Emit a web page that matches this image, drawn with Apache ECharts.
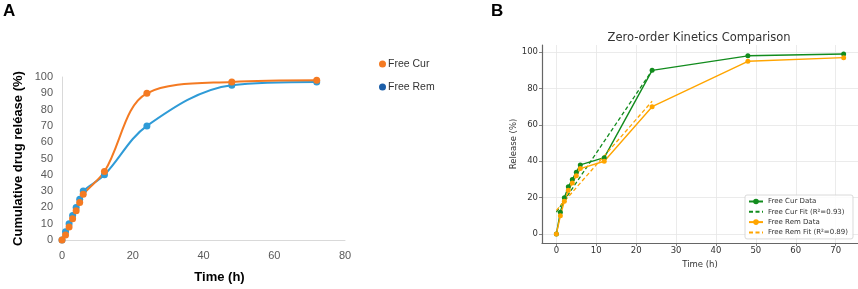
<!DOCTYPE html>
<html>
<head>
<meta charset="utf-8">
<script src="https://cdn.jsdelivr.net/npm/echarts@6/dist/echarts.min.js"></script>
<style>html,body{margin:0;padding:0;background:#fff}#c{width:858px;height:289px}</style>
</head>
<body>
<div id="c"></div>
<script>
// ---- data ----
const timesH = [0, 1, 2, 3, 4, 5, 6, 12, 24, 48, 72];
// Panel A
const curA = [0, 3, 8, 13, 18, 23, 28, 42, 90, 97, 98];
const remA = [0, 5, 10, 15, 20, 25, 30, 40, 70, 95, 97];
// Panel B
const curB = [0, 12, 20, 26, 30, 34, 38, 42, 90, 98, 99];
const remB = [0, 10, 18, 24, 28, 32, 36, 40, 70, 95, 97];
const fitTimes = [0, 24];
const curFit = [12, 90];
const remFit = [13, 73];
const xTicksB = [0, 10, 20, 30, 40, 50, 60, 70];
const yTicksB = [0, 20, 40, 60, 80, 100];

const pairs = (xs, ys) => xs.map((x, i) => [x, ys[i]]);

const GREEN = '#128c1e', ORANGE = '#ffa500';
const ORA = '#f47a22', BLU = '#2f9bd7', BLU_LEG = '#1b5ea8';
const mpl = 'DejaVu Sans';
const xl = 'Liberation Sans';

const chart = echarts.init(document.getElementById('c'), null, {renderer: 'canvas'});
chart.setOption({
  animation: false,
  backgroundColor: '#fff',
  graphic: [
    {type: 'text', left: 3, top: 3, style: {text: 'A', font: 'bold 17px "Liberation Sans"', fill: '#000'}},
    {type: 'text', left: 491, top: 3, style: {text: 'B', font: 'bold 17px "Liberation Sans"', fill: '#000'}},
    {type: 'text', x: 699, y: 38, style: {text: 'Zero-order Kinetics Comparison', font: '11.5px "DejaVu Sans"', fill: '#333', align: 'center', verticalAlign: 'middle'}}
  ],
  legend: [
    {
      orient: 'vertical', left: 374, top: 53, itemWidth: 7, itemHeight: 7, itemGap: 11,
      icon: 'circle',
      textStyle: {fontFamily: xl, fontSize: 10.5, color: '#333', lineHeight: 12, padding: [0, 0, 0, -3]},
      data: [{name: 'Free Cur', itemStyle: {color: ORA}}, {name: 'Free Rem', itemStyle: {color: BLU_LEG}}]
    },
    {
      orient: 'vertical', left: 745, top: 195, itemWidth: 14, itemHeight: 7, itemGap: 3.3,
      padding: [3, 5, 3, 3],
      backgroundColor: 'rgba(255,255,255,0.85)', borderColor: '#d0d0d0', borderWidth: 0.8, borderRadius: 2,
      textStyle: {fontFamily: mpl, fontSize: 7, color: '#333', lineHeight: 7},
      data: [
        'Free Cur Data',
        {name: 'Free Cur Fit (R²=0.93)', itemStyle: {opacity: 0}},
        'Free Rem Data',
        {name: 'Free Rem Fit (R²=0.89)', itemStyle: {opacity: 0}}
      ]
    }
  ],
  grid: [
    {left: 62, top: 77, width: 283, height: 165},
    {left: 542, top: 45, width: 323, height: 198}
  ],
  xAxis: [
    {
      type: 'value', gridIndex: 0, min: 0, max: 80, interval: 20,
      name: 'Time (h)', nameLocation: 'middle', nameGap: 31,
      nameTextStyle: {fontFamily: xl, fontWeight: 'bold', fontSize: 13, color: '#000', padding: [0, 0, 0, 32]},
      axisLine: {show: true, lineStyle: {color: '#d9d9d9', width: 1}},
      axisTick: {show: false}, splitLine: {show: false},
      axisLabel: {fontFamily: xl, fontSize: 11, color: '#595959', margin: 10}
    },
    {
      type: 'value', gridIndex: 1, min: -3.6, max: 75.6,
      name: 'Time (h)', nameLocation: 'middle', nameGap: 13,
      nameTextStyle: {fontFamily: mpl, fontSize: 8.5, color: '#333'},
      axisLine: {show: true, onZero: false, lineStyle: {color: '#666', width: 1.2}},
      axisTick: {show: true, customValues: xTicksB, length: 3, lineStyle: {color: '#666', width: 0.8}},
      splitLine: {show: true, lineStyle: {color: '#e6e6e6', width: 0.8}},
      axisLabel: {customValues: xTicksB, fontFamily: mpl, fontSize: 8.5, color: '#333', margin: 3}
    }
  ],
  yAxis: [
    {
      type: 'value', gridIndex: 0, min: 0, max: 100, interval: 10,
      name: 'Cumulative drug reléase (%)', nameLocation: 'middle', nameGap: 37,
      nameTextStyle: {fontFamily: xl, fontWeight: 'bold', fontSize: 13, color: '#000'},
      axisLine: {show: true, lineStyle: {color: '#d9d9d9', width: 1}},
      axisTick: {show: false}, splitLine: {show: false},
      axisLabel: {fontFamily: xl, fontSize: 11, color: '#595959', margin: 9}
    },
    {
      type: 'value', gridIndex: 1, min: -4.95, max: 103.95,
      name: 'Release (%)', nameLocation: 'middle', nameGap: 23,
      nameTextStyle: {fontFamily: mpl, fontSize: 8.5, color: '#333'},
      axisLine: {show: true, onZero: false, lineStyle: {color: '#666', width: 1.2}},
      axisTick: {show: true, customValues: yTicksB, length: 3, lineStyle: {color: '#666', width: 0.8}},
      splitLine: {show: true, lineStyle: {color: '#e6e6e6', width: 0.8}},
      axisLabel: {customValues: yTicksB, fontFamily: mpl, fontSize: 8.5, color: '#333', margin: 4}
    }
  ],
  series: [
    {
      name: 'Free Rem', type: 'line', xAxisIndex: 0, yAxisIndex: 0, data: pairs(timesH, remA),
      smooth: 0.35, symbol: 'circle', symbolSize: 7,
      itemStyle: {color: BLU}, lineStyle: {color: BLU, width: 2}
    },
    {
      name: 'Free Cur', type: 'line', xAxisIndex: 0, yAxisIndex: 0, data: pairs(timesH, curA),
      smooth: 0.35, symbol: 'circle', symbolSize: 7,
      itemStyle: {color: ORA}, lineStyle: {color: ORA, width: 2}
    },
    {
      name: 'Free Cur Data', type: 'line', xAxisIndex: 1, yAxisIndex: 1, data: pairs(timesH, curB),
      symbol: 'circle', symbolSize: 5, itemStyle: {color: GREEN}, lineStyle: {color: GREEN, width: 1.4}
    },
    {
      name: 'Free Cur Fit (R²=0.93)', type: 'line', xAxisIndex: 1, yAxisIndex: 1, data: pairs(fitTimes, curFit),
      symbol: 'none', itemStyle: {color: GREEN}, lineStyle: {color: GREEN, width: 1.3, type: [4, 2.5]}
    },
    {
      name: 'Free Rem Data', type: 'line', xAxisIndex: 1, yAxisIndex: 1, data: pairs(timesH, remB),
      symbol: 'circle', symbolSize: 5, itemStyle: {color: ORANGE}, lineStyle: {color: ORANGE, width: 1.4}
    },
    {
      name: 'Free Rem Fit (R²=0.89)', type: 'line', xAxisIndex: 1, yAxisIndex: 1, data: pairs(fitTimes, remFit),
      symbol: 'none', itemStyle: {color: ORANGE}, lineStyle: {color: ORANGE, width: 1.3, type: [4, 2.5]}
    }
  ]
});
</script>
</body>
</html>
